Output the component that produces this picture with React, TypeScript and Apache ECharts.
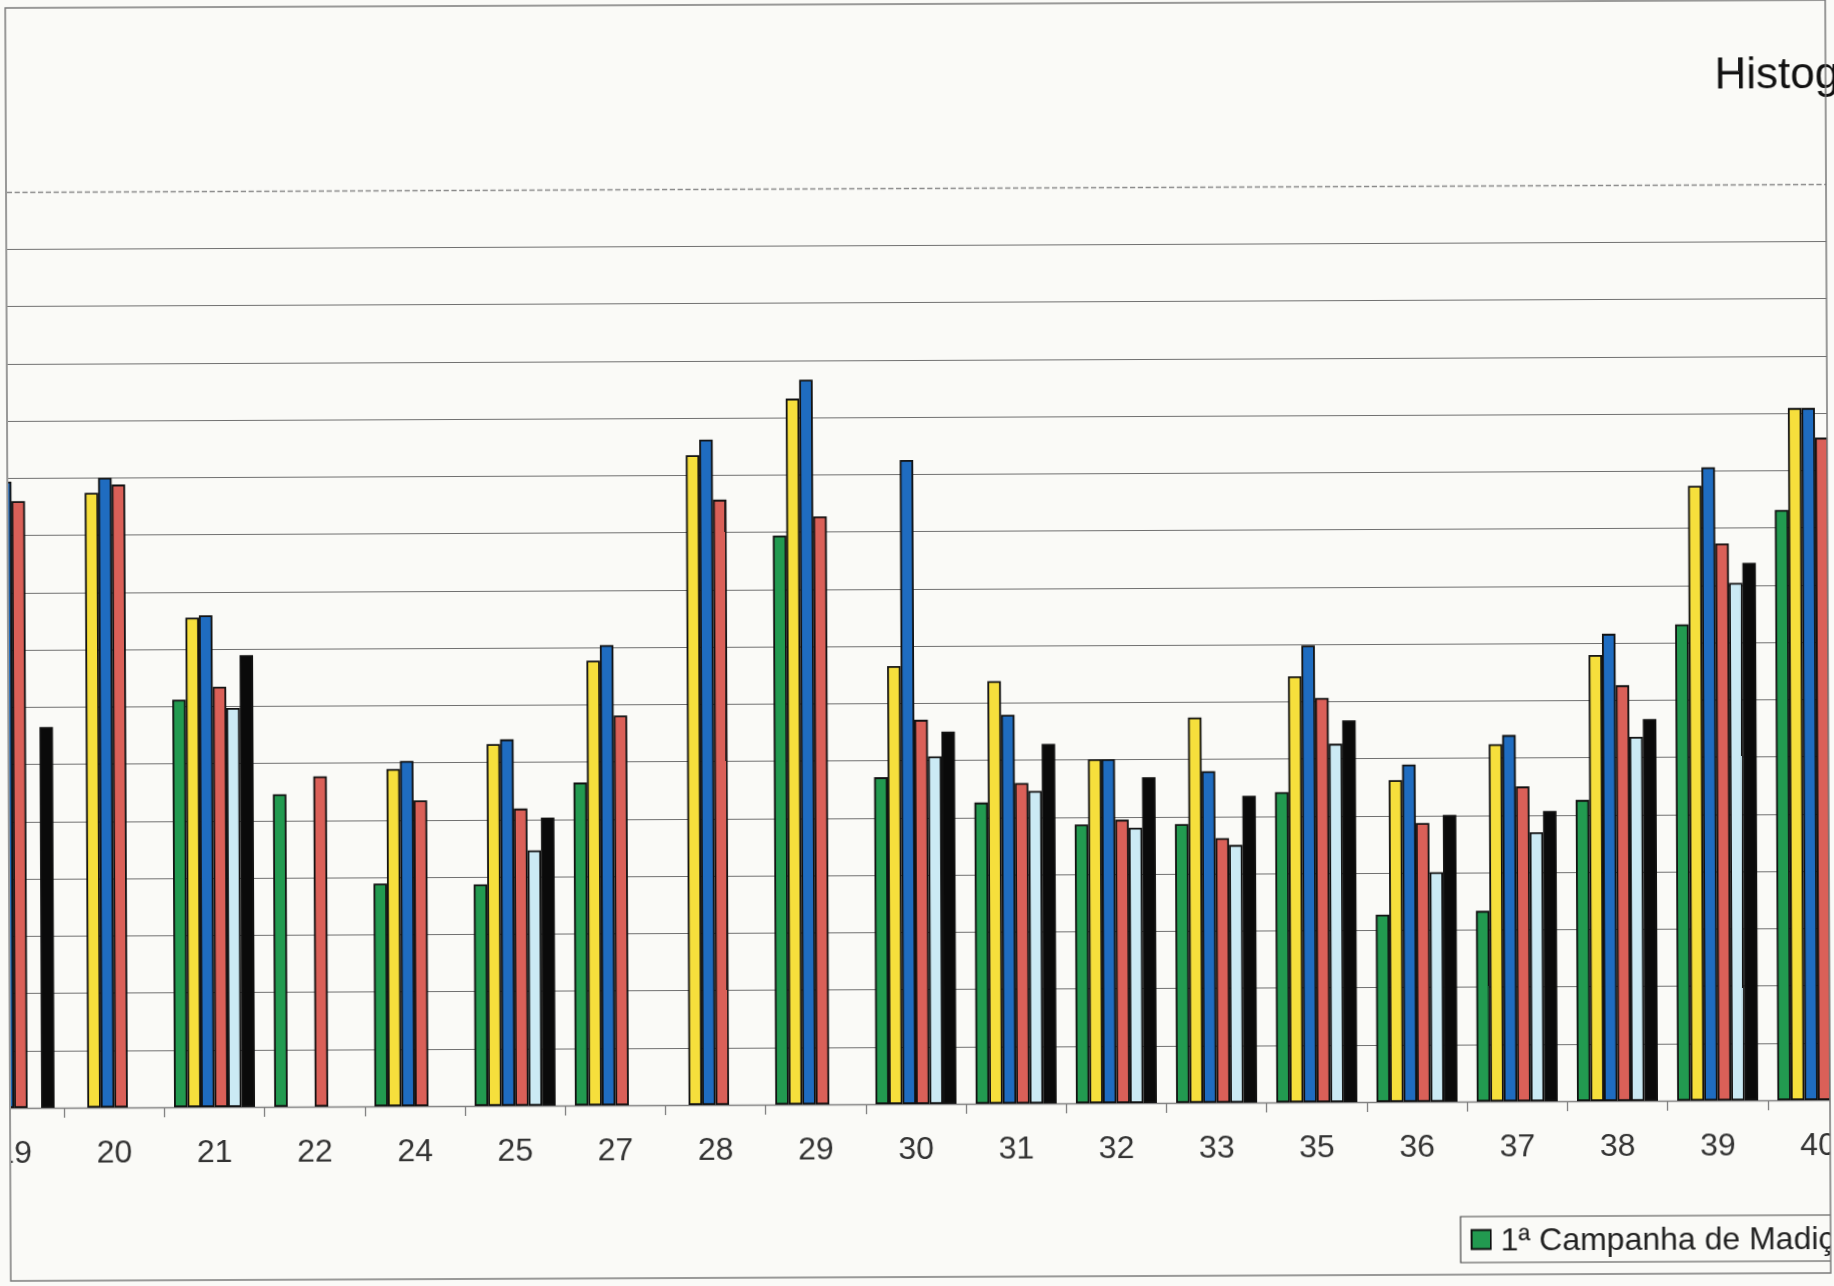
import React, { useEffect, useRef } from "react";
import * as echarts from "echarts";

const categories = ["19", "20", "21", "22", "24", "25", "27", "28", "29", "30", "31", "32", "33", "35", "36", "37", "38", "39", "40"];

const seriesNames = [
  "1ª Campanha de Madição",
  "2ª Campanha de Madição",
  "3ª Campanha de Madição",
  "4ª Campanha de Madição",
  "5ª Campanha de Madição",
  "6ª Campanha de Madição",
];

const green = [8.5, null, 7.12, 5.46, 3.89, 3.87, 5.64, null, 9.94, 5.71, 5.26, 4.87, 4.87, 5.42, 3.27, 3.33, 5.26, 8.32, 10.31];
const yellow = [10.8, 10.74, 8.55, null, 5.89, 6.32, 7.77, 11.35, 12.33, 7.65, 7.38, 6.01, 6.73, 7.44, 5.62, 6.24, 7.79, 10.74, 12.09];
const blue = [10.94, 11.0, 8.59, null, 6.03, 6.4, 8.04, 11.62, 12.66, 11.25, 6.79, 6.01, 5.79, 7.98, 5.89, 6.4, 8.16, 11.06, 12.09];
const red = [10.6, 10.88, 7.34, 5.77, 5.34, 5.19, 6.81, 10.57, 10.27, 6.71, 5.6, 4.95, 4.62, 7.06, 4.87, 5.5, 7.26, 9.73, 11.57];
const lightBlue = [null, null, 6.97, null, null, 4.46, null, null, null, 6.07, 5.46, 4.81, 4.5, 6.26, 4.01, 4.7, 6.36, 9.04, 10.2];
const black = [6.65, null, 7.89, null, null, 5.03, null, null, null, 6.5, 6.28, 5.69, 5.36, 6.67, 5.01, 5.07, 6.67, 9.39, 10.6];

const seriesData = [green, yellow, blue, red, lightBlue, black];
const colors = ["#229a50", "#f6df3c", "#1f6cc0", "#da6058", "#cbeaf4", "#0a0a0a"];

const yMax = 16;
const bg = "#fafaf7";
const font = "'Liberation Sans', Arial, sans-serif";

// the visible picture is a crop of a wider chart: the canvas is shifted left
const OFF = 38;
const W = 1834 + OFF + 32;
const H = 1286;

export default function App() {
  const ref = useRef<HTMLDivElement>(null);
  useEffect(() => {
    document.body.style.margin = "0";
    document.body.style.background = bg;
    document.body.style.overflow = "hidden";
    const chart = echarts.init(ref.current!, null, { renderer: "svg" });
    const series: any[] = seriesData.map((d, i) => ({
      name: seriesNames[i],
      type: "bar",
      data: d,
      barWidth: 13.5,
      barGap: "0%",
      itemStyle: { color: colors[i], borderColor: "#111", borderWidth: 1.8 },
      markLine:
        i === 0
          ? {
              silent: true,
              symbol: "none",
              label: { show: false },
              lineStyle: { type: "dashed", color: "#8a8a8a", width: 1.3 },
              data: [{ yAxis: yMax }],
            }
          : undefined,
    }));
    chart.setOption({
      animation: false,
      backgroundColor: bg,
      textStyle: { fontFamily: font },
      title: {
        text: "Histograma",
        left: 1712 + OFF,
        top: 49,
        textStyle: { fontSize: 44, fontWeight: "normal", color: "#111", fontFamily: font },
      },
      legend: {
        left: 1458 + OFF,
        top: 1219,
        width: 5000,
        padding: [7, 10, 7, 10],
        itemWidth: 19,
        itemHeight: 19,
        itemGap: 40,
        icon: "rect",
        borderColor: "#444",
        borderWidth: 1.2,
        backgroundColor: bg,
        textStyle: { fontSize: 32, color: "#222", fontFamily: font, padding: [0, 0, 0, 5] },
        data: seriesNames,
      },
      grid: { left: 0, right: 0, top: 188, bottom: 182, containLabel: false },
      xAxis: {
        type: "category",
        data: categories,
        boundaryGap: true,
        axisLine: { lineStyle: { color: "#808080", width: 1.3 } },
        axisTick: { show: true, length: 10, alignWithLabel: false, interval: 0, lineStyle: { color: "#808080", width: 1.3 } },
        axisLabel: { fontSize: 32, color: "#333", margin: 28, interval: 0, fontFamily: font },
      },
      yAxis: {
        type: "value",
        min: 0,
        max: yMax,
        interval: 1,
        axisLine: { show: false },
        axisTick: { show: false },
        axisLabel: { show: false },
        splitLine: { show: true, showMaxLine: false, lineStyle: { color: "#707070", width: 1.2 } },
      },
      graphic: [
        { type: "rect", z: 100, shape: { x: 0, y: -20, width: OFF + 9, height: H + 40 }, style: { fill: bg } },
        { type: "rect", z: 100, shape: { x: 1828 + OFF, y: 150, width: 60, height: H }, style: { fill: bg } },
        {
          type: "rect",
          z: 101,
          shape: { x: 8 + OFF, y: 4, width: 1820, height: 1273 },
          style: { fill: "none", stroke: "#7a7a7a", lineWidth: 1.5 },
        },
      ],
      series,
    });
    return () => chart.dispose();
  }, []);
  return (
    <div
      ref={ref}
      style={{
        position: "fixed",
        left: -OFF,
        top: 0,
        width: W,
        height: H,
        transform: "rotate(-0.25deg)",
      }}
    />
  );
}
